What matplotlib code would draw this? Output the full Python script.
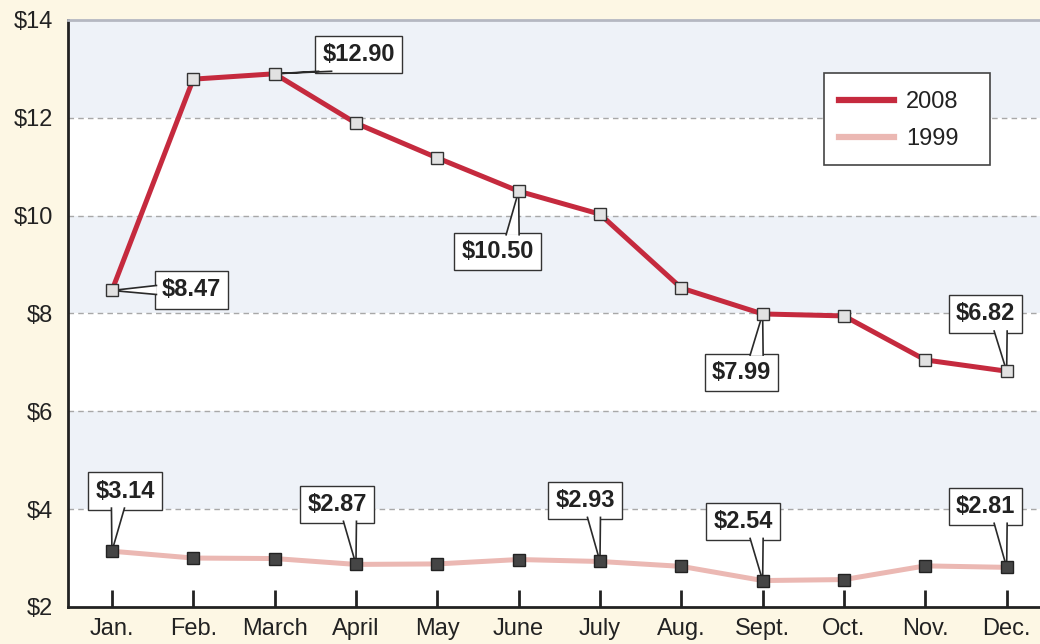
import matplotlib.pyplot as plt
from matplotlib.patches import Polygon, Rectangle
from matplotlib.lines import Line2D

plt.rcParams['font.family'] = ['Liberation Sans', 'DejaVu Sans']

months = ["Jan.", "Feb.", "March", "April", "May", "June", "July",
          "Aug.", "Sept.", "Oct.", "Nov.", "Dec."]
prices_2008 = [8.47, 12.79, 12.90, 11.89, 11.18, 10.50, 10.03, 8.52, 7.99, 7.95, 7.05, 6.82]
prices_1999 = [3.14, 3.00, 2.99, 2.87, 2.88, 2.97, 2.93, 2.83, 2.54, 2.56, 2.84, 2.81]
y_ticks = [2, 4, 6, 8, 10, 12, 14]

# labelled months and where their boxes sit (offset from the point, data units)
callouts_2008 = {0: (0.98, 0.01), 2: (1.03, 0.40), 5: (-0.26, -1.24), 8: (-0.26, -1.19), 11: (-0.26, 1.17)}
callouts_1999 = {0: (0.16, 1.23), 3: (-0.23, 1.23), 6: (-0.18, 1.25), 8: (-0.24, 1.21), 11: (-0.26, 1.25)}

bg = "#fdf7e4"
band = "#eef2f8"
red = "#c52a3e"
pink = "#ebb8b3"
dark = "#222222"

fig = plt.figure(figsize=(10.4, 6.44), dpi=100, facecolor=bg)
ax = fig.add_axes([0.0654, 0.0575, 0.9346, 0.9115])
ax.set_facecolor("white")

x = list(range(len(months)))
for lo in (4, 8, 12):
    ax.axhspan(lo, lo + 2, color=band, zorder=0, lw=0)
for yt in y_ticks[1:-1]:
    ax.axhline(yt, color="#a8a8a8", lw=1, ls=(0, (4, 3)), zorder=1)

ax.plot(x, prices_2008, color=red, lw=3.6, label="2008", zorder=3)
ax.plot(x, prices_1999, color=pink, lw=3.6, label="1999", zorder=3)
# markers on top of the callout pointers
ax.plot(x, prices_2008, ls="none", marker="s", markersize=9,
        markerfacecolor="#e2e2e2", markeredgecolor="#333333", markeredgewidth=1, zorder=8)
ax.plot(x, prices_1999, ls="none", marker="s", markersize=9,
        markerfacecolor="#454545", markeredgecolor="#222222", markeredgewidth=1, zorder=8)

ax.set_xlim(-0.54, 11.41)
ax.set_ylim(2, 14)
ax.set_yticks(y_ticks)
ax.set_yticklabels([f"${v}" for v in y_ticks], fontsize=17, color=dark)
ax.set_xticks(x)
ax.set_xticklabels(months, fontsize=17, color=dark)
ax.tick_params(axis="x", direction="in", length=12, width=2, color=dark, pad=8)
ax.tick_params(axis="y", length=0, pad=11)

for s in ("left", "bottom"):
    ax.spines[s].set_color(dark)
    ax.spines[s].set_linewidth(2)
ax.spines["right"].set_visible(False)
ax.spines["top"].set_color("#b5b8c2")
ax.spines["top"].set_linewidth(2)

# callout boxes
labels = []
for vals, spec in ((prices_2008, callouts_2008), (prices_1999, callouts_1999)):
    for i, (dx, dy) in spec.items():
        t = ax.text(i + dx, vals[i] + dy, f"${vals[i]:.2f}", ha="center", va="center",
                    fontsize=17, fontweight="bold", color=dark, zorder=5,
                    bbox=dict(boxstyle="square,pad=0.3", fc="white", ec="#333333", lw=1))
        labels.append((t, i, vals[i]))

fig.canvas.draw()
renderer = fig.canvas.get_renderer()
inv = ax.transData.inverted()
half = 6.5
for t, i, v in labels:
    bb = t.get_bbox_patch().get_window_extent(renderer)
    px, py = ax.transData.transform((i, v))
    shift = 6 if px < bb.x0 + bb.width / 2 else -6
    bx = min(max(px + shift, bb.x0 + 10), bb.x1 - 10)
    if py < bb.y0:
        base = [(bx - half, bb.y0 + 1.5), (bx + half, bb.y0 + 1.5)]
    elif py > bb.y1:
        base = [(bx - half, bb.y1 - 1.5), (bx + half, bb.y1 - 1.5)]
    else:
        by = (bb.y0 + bb.y1) / 2
        base = [(bb.x0 + 1.5, by + 4.5), (bb.x0 + 1.5, by - 4.5)]
    pts = [inv.transform(base[0]), inv.transform((px, py)), inv.transform(base[1])]
    ax.add_patch(Polygon(pts, closed=True, fc="white", ec="none", zorder=6))
    ax.plot([p[0] for p in pts], [p[1] for p in pts],
            color="#2a2a2a", lw=1.2, zorder=7, solid_joinstyle="miter")

# legend box
ax.add_patch(Rectangle((0.778, 0.753), 0.1706, 0.1567, transform=ax.transAxes,
                       fc="white", ec="#444444", lw=1.2, zorder=9))
handles = [Line2D([], [], color=red, lw=4.5), Line2D([], [], color=pink, lw=4.5)]
leg = ax.legend(handles, ["2008", "1999"], loc="upper left", bbox_to_anchor=(0.793, 0.879),
                fontsize=17, frameon=False, handlelength=2.35, borderpad=0,
                labelspacing=0.65, handletextpad=0.5, borderaxespad=0)
leg.set_zorder(10)
for txt in leg.get_texts():
    txt.set_color(dark)

fig.savefig("out.png", dpi=100, facecolor=bg)
